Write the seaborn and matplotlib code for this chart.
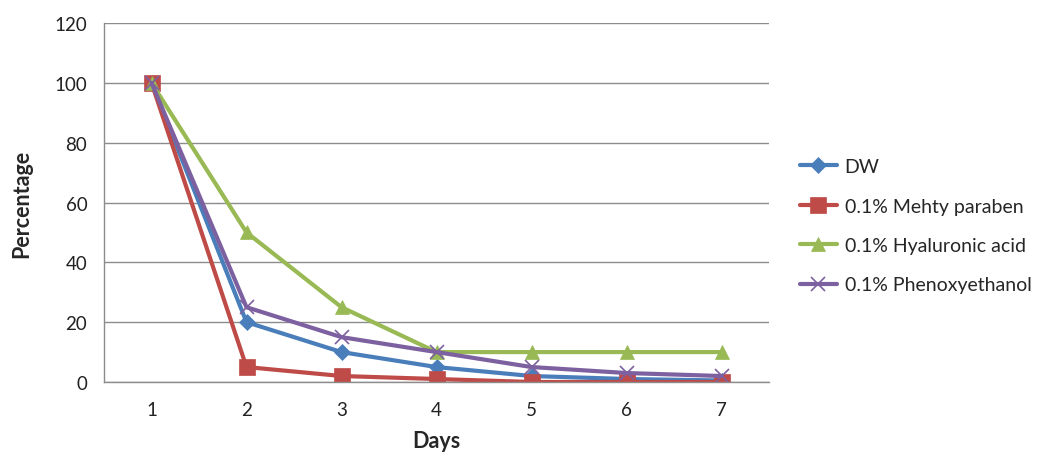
import matplotlib
matplotlib.use("Agg")
import matplotlib.pyplot as plt
import seaborn as sns
import pandas as pd
from matplotlib.ticker import FixedLocator, NullFormatter

days = [1, 2, 3, 4, 5, 6, 7]
dw = [100, 20, 10, 5, 2, 1, 0.5]
methyl = [100, 5, 2, 1, 0, 0, 0]
hyaluronic = [100, 50, 25, 10, 10, 10, 10]
phenoxy = [100, 25, 15, 10, 5, 3, 2]
series_names = ["DW", "0.1% Mehty paraben", "0.1% Hyaluronic acid", "0.1% Phenoxyethanol"]
colors = ["#4a7ebb", "#be4b48", "#98b954", "#7d60a0"]
markers = ["D", "s", "^", "x"]
msizes = [8, 11, 10, 10]

rows = []
for name, vals in zip(series_names, [dw, methyl, hyaluronic, phenoxy]):
    for d, v in zip(days, vals):
        rows.append({"Days": d, "Percentage": v, "Series": name})
df = pd.DataFrame(rows)

sns.set_style("white")
plt.rcParams['font.family'] = ['Lato', 'DejaVu Sans']

fig = plt.figure(figsize=(10.51, 4.64), dpi=100)
ax = fig.add_axes([104/1051, 1-383/464, (769-104)/1051, (383-24)/464])

for name, c, m, ms in zip(series_names, colors, markers, msizes):
    sub = df[df["Series"] == name]
    sns.lineplot(data=sub, x="Days", y="Percentage", ax=ax, color=c, marker=m,
                 markersize=ms, linewidth=3, label=name,
                 markeredgecolor=c, markeredgewidth=1.2 if m == "x" else 0.5)

ax.set_xlim(0.5, 7.5)
ax.set_ylim(0, 120)
ax.set_yticks([0, 20, 40, 60, 80, 100, 120])
ax.yaxis.grid(True, color="#8c8c8c", linewidth=1)
ax.set_axisbelow(True)
ax.set_xticks(days)
ax.set_xticklabels([str(d) for d in days])
ax.xaxis.set_minor_locator(FixedLocator([0.5 + i for i in range(8)]))
ax.tick_params(axis="x", which="major", length=0, labelsize=13.5, pad=14, colors="#222222")
ax.tick_params(axis="x", which="minor", length=6, width=1, color="#8c8c8c", direction="out")
ax.tick_params(axis="y", which="major", length=6, width=1, color="#8c8c8c", direction="out",
               labelsize=13.5, labelcolor="#222222", pad=6)
ax.xaxis.set_minor_formatter(NullFormatter())
for s in ["top", "right"]:
    ax.spines[s].set_visible(False)
for s in ["left", "bottom"]:
    ax.spines[s].set_color("#8c8c8c")
    ax.spines[s].set_linewidth(1)

ax.set_xlabel("Days", fontsize=15.5, fontweight="bold", labelpad=8)
ax.set_ylabel("Percentage", fontsize=15.5, fontweight="bold", labelpad=16)

leg = ax.legend(loc="center left", bbox_to_anchor=(1.02, 0.435), frameon=False,
                fontsize=14, labelspacing=1.15, handlelength=1.9, handletextpad=0.4)

fig.savefig("out.png", dpi=100)
